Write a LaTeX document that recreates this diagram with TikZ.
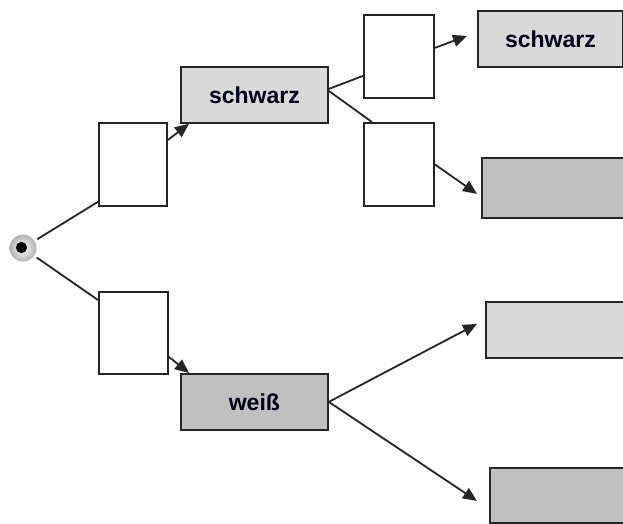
\documentclass[tikz,border=0pt]{standalone}
\usepackage{fontspec}
\setmainfont{Liberation Sans}
\usetikzlibrary{arrows.meta}
\definecolor{lightbox}{HTML}{D9D9D9}
\definecolor{darkbox}{HTML}{C0C0C0}
\definecolor{edge}{HTML}{262626}
\begin{document}
\begin{tikzpicture}[x=1pt,y=-1pt,
  box/.style={draw=edge,line width=1.8pt,rectangle,anchor=north west,inner sep=0pt,
    font=\fontsize{23}{26}\selectfont\bfseries,text=black!90!blue},
  emptybox/.style={box,fill=white},
  lightfill/.style={box,fill=lightbox},
  darkfill/.style={box,fill=darkbox},
  conn/.style={draw=edge,line width=1.8pt},
  arr/.style={conn,-{Triangle[length=14pt,width=12pt]}}]
\useasboundingbox (0,0) rectangle (623,523);
\clip (0,0) rectangle (623,523);
\fill[white] (0,0) rectangle (623,523);
% start point
\node[circle,minimum size=27pt,inner sep=0pt,inner color=white,outer color=black!30] (o) at (23,248) {};
\fill[black] (21.5,247.5) circle (5.6);
% boxes
\node[emptybox,minimum width=68pt,minimum height=83pt] (A) at (98,122) {};
\node[emptybox,minimum width=69pt,minimum height=82pt] (B) at (98,291) {};
\node[emptybox,minimum width=70pt,minimum height=83pt] (C) at (363,14) {};
\node[emptybox,minimum width=70pt,minimum height=83pt] (D) at (363,122) {};
\node[lightfill,minimum width=147pt,minimum height=56pt] (S1) at (180,66) {schwarz};
\node[darkfill,minimum width=147pt,minimum height=56pt] (W) at (180,373) {weiß};
\node[lightfill,minimum width=145pt,minimum height=56pt] (S2) at (477,10) {schwarz};
\node[darkfill,minimum width=170pt,minimum height=60pt] (G1) at (481,157) {};
\node[lightfill,minimum width=170pt,minimum height=56pt] (L2) at (485,301) {};
\node[darkfill,minimum width=170pt,minimum height=55pt] (G2) at (489,467) {};
% connectors
\draw[conn,shorten <=3pt] (o) -- ([yshift=5pt]A.south west);
\draw[conn,shorten <=3pt] (o) -- ([yshift=-9pt]B.north west);
\draw[arr] ([yshift=-18pt]A.north east) -- ([xshift=9pt]S1.south west);
\draw[arr] ([yshift=18pt]B.south east) -- ([xshift=9pt]W.north west);
\draw[conn] ([yshift=6pt]S1.east) -- ([yshift=-19.5pt]C.west);
\draw[conn] ([yshift=4pt]S1.east) -- ([xshift=9pt]D.north west);
\draw[arr] ([yshift=8.5pt]C.east) -- ([xshift=-10pt,yshift=3pt]S2.west);
\draw[arr] (D.east) -- ([xshift=-4pt,yshift=-6pt]G1.west);
\draw[arr] (W.east) -- ([xshift=-8pt,yshift=6pt]L2.west);
\draw[arr] (W.east) -- ([xshift=-12pt,yshift=-5.5pt]G2.west);
\end{tikzpicture}
\end{document}
